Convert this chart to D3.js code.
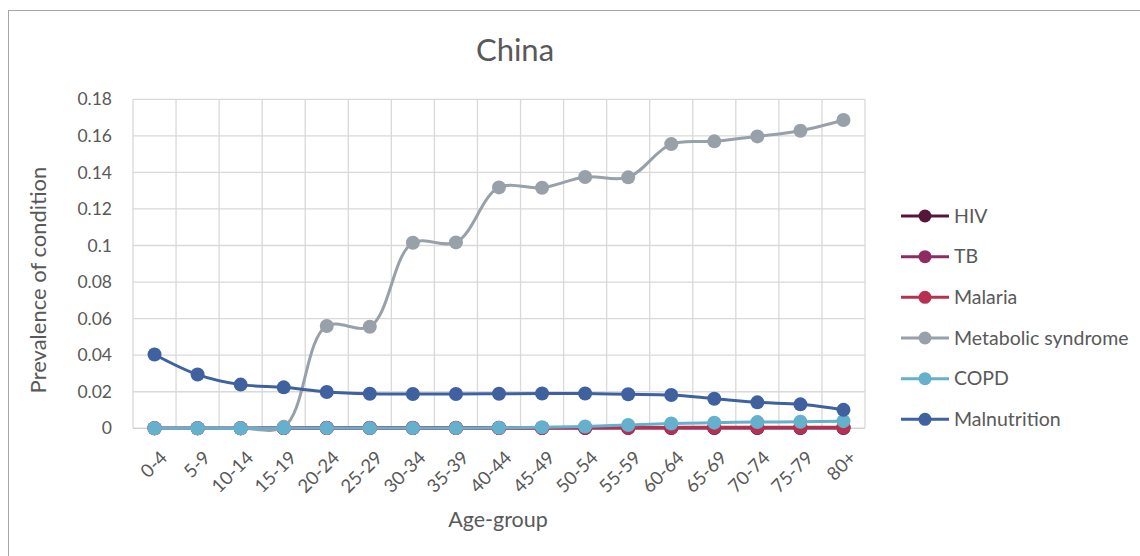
<!DOCTYPE html>
<html><head><meta charset="utf-8">
<script src="https://cdn.jsdelivr.net/npm/d3@7"></script>
<style>
html,body{margin:0;padding:0;background:#fff;}
svg{display:block;font-family:Lato,"Open Sans",sans-serif;}
</style></head>
<body><svg id="c" width="1140" height="556"></svg>
<script>
const categories = ["0-4","5-9","10-14","15-19","20-24","25-29","30-34","35-39","40-44","45-49","50-54","55-59","60-64","65-69","70-74","75-79","80+"];
const seriesNames = ["HIV","TB","Malaria","Metabolic syndrome","COPD","Malnutrition"];
const hiv = [0,0,0,0.0001,0.0001,0.0001,0.0001,0.0001,0.0001,0.0001,0.0001,0.0001,0.0001,0.0001,0.0001,0.0001,0.0001];
const tb = [0,0,0,0.0002,0.0003,0.0003,0.0003,0.0003,0.0003,0.0003,0.0003,0.0003,0.0003,0.0003,0.0003,0.0003,0.0003];
const malaria = [0,0,0,0.0001,0.0002,0.0002,0.0002,0.0002,0.0002,0.0002,0.0003,0.0004,0.0005,0.0006,0.0006,0.0006,0.0006];
const metabolic = [0,0,0,0.0008,0.056,0.0556,0.1015,0.1017,0.1318,0.1316,0.1375,0.1373,0.1555,0.157,0.1597,0.1628,0.1687];
const copd = [0,0,0,0.0001,0.0001,0.0001,0.0001,0.0002,0.0003,0.0006,0.001,0.0018,0.0026,0.0031,0.0034,0.0036,0.0039];
const malnutrition = [0.0404,0.0294,0.0239,0.0224,0.0199,0.0189,0.0188,0.0188,0.0189,0.019,0.019,0.0186,0.0182,0.0162,0.0142,0.0131,0.0101];
const yTicks = [0,0.02,0.04,0.06,0.08,0.1,0.12,0.14,0.16,0.18];
const colors = ["#561639","#8e2c62","#b7304f","#98a0aa","#64b0cd","#3f61a0"];
const title = "China";
const xTitle = "Age-group";
const yTitle = "Prevalence of condition";

const data = [hiv,tb,malaria,metabolic,copd,malnutrition];
const svg = d3.select("#c");
const textCol = "#595959";

// outer chart border
svg.append("rect").attr("x",8.5).attr("y",10.5).attr("width",1140).attr("height",560)
  .attr("fill","none").attr("stroke","#a6a6a6").attr("stroke-width",1);

const x = d3.scaleBand().domain(categories).range([133,865]);
const y = d3.scaleLinear().domain([0,0.18]).range([428.3,99.3]);

// grid
const g = svg.append("g");
g.selectAll("line.h").data(yTicks).join("line")
  .attr("x1",133).attr("x2",865).attr("y1",d=>y(d)).attr("y2",d=>y(d))
  .attr("stroke","#d9d9d9").attr("stroke-width",1.3);
const vlines = categories.map(c=>x(c)).concat([x.range()[1]]);
g.selectAll("line.v").data(vlines).join("line")
  .attr("x1",d=>d).attr("x2",d=>d).attr("y1",y(0.18)).attr("y2",y(0))
  .attr("stroke","#d9d9d9").attr("stroke-width",1.3);
g.append("line").attr("x1",133).attr("x2",865).attr("y1",y(0)).attr("y2",y(0)).attr("stroke","#d0d0d0").attr("stroke-width",1.3);

// y axis labels
const yAxis = d3.axisLeft(y).tickValues(yTicks).tickSize(0).tickPadding(0).tickFormat(d=>d3.format("")(+d.toFixed(2)));
const ya = svg.append("g").attr("transform","translate(112,0)").call(yAxis);
ya.select(".domain").remove();
ya.selectAll("text").attr("fill",textCol).style("font-size","17.5px").style("font-family","Lato");

// x axis labels
const xAxis = d3.axisBottom(x).tickSize(0).tickPadding(0);
const xa = svg.append("g").attr("transform","translate(0,440)").call(xAxis);
xa.select(".domain").remove();
xa.selectAll("text").attr("fill",textCol).style("font-size","18.5px").style("font-family","Lato")
  .attr("text-anchor","end").attr("dy","0.6em").attr("y",0)
  .attr("transform","translate(6,11) rotate(-45)");

// lines
const line = d3.line().x((d,i)=>x(categories[i])+x.bandwidth()/2).y(d=>y(d)).curve(d3.curveCatmullRom.alpha(0.6));
data.forEach((arr,k)=>{
  svg.append("path").datum(arr).attr("d",line).attr("fill","none")
    .attr("stroke",colors[k]).attr("stroke-width",3).attr("stroke-linejoin","round");
  svg.append("g").selectAll("circle").data(arr).join("circle")
    .attr("cx",(d,i)=>x(categories[i])+x.bandwidth()/2).attr("cy",d=>y(d)).attr("r",7)
    .attr("fill",colors[k]);
});

// title
svg.append("text").attr("x",515).attr("y",61).attr("text-anchor","middle")
  .attr("fill",textCol).style("font-size","31px").text(title);
svg.append("text").attr("x",498).attr("y",527).attr("text-anchor","middle")
  .attr("fill",textCol).style("font-size","21.5px").text(xTitle);
svg.append("text").attr("transform","translate(46,280) rotate(-90)").attr("text-anchor","middle")
  .attr("fill",textCol).style("font-size","22px").text(yTitle);

// legend
const ly = d3.scalePoint().domain(seriesNames).range([216,419.3]);
const lg = svg.append("g");
seriesNames.forEach((n,k)=>{
  const yy = ly(n);
  lg.append("line").attr("x1",901).attr("x2",949).attr("y1",yy).attr("y2",yy).attr("stroke",colors[k]).attr("stroke-width",3);
  lg.append("circle").attr("cx",925).attr("cy",yy).attr("r",6.5).attr("fill",colors[k]);
  lg.append("text").attr("x",954).attr("y",yy).attr("dy","0.35em").attr("fill",textCol).style("font-size","19.5px").text(n);
});
</script></body></html>
